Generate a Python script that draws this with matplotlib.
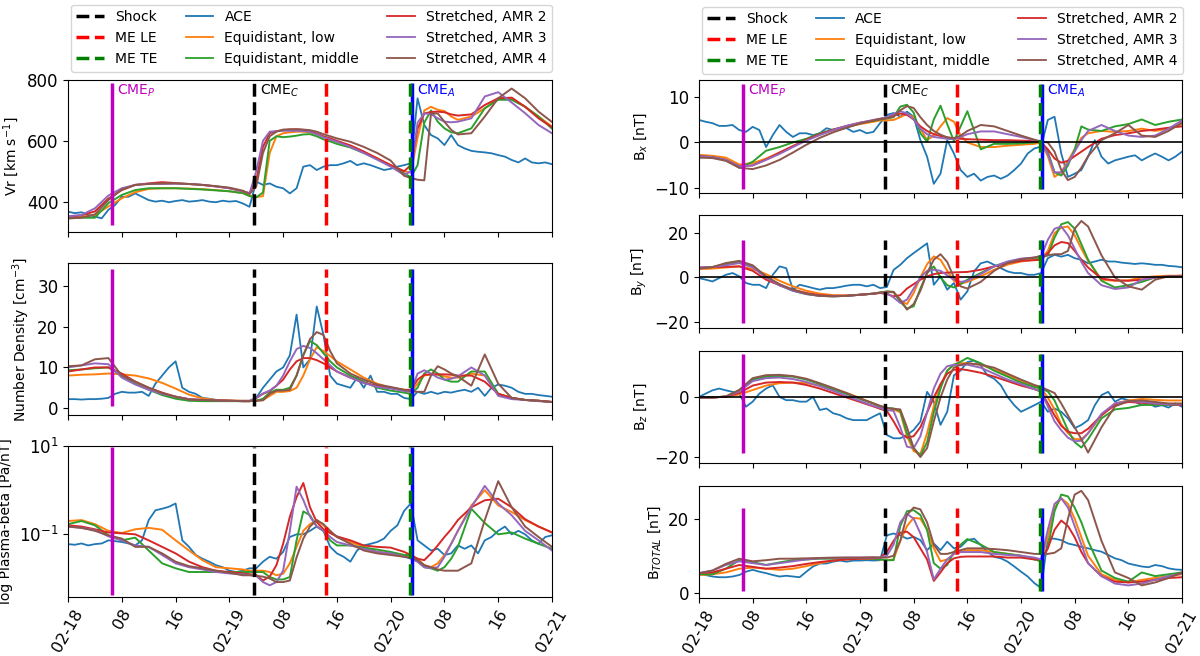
import numpy as np
import matplotlib.pyplot as plt
import matplotlib.dates as mdates
from matplotlib.lines import Line2D
from matplotlib.ticker import FuncFormatter, NullLocator

# time grids (hours after 2014-02-18 00:00)
t_mod = [0, 2, 4, 6, 8, 10, 12, 14, 16, 18, 20, 22, 24, 26,
         27, 28, 29, 30, 31, 32, 33, 34, 35, 36, 37, 38, 39, 40,
         42, 44, 46, 48, 50,
         51, 52, 53, 54, 55, 56, 57, 58,
         60, 62, 64, 66, 68, 70, 72]
t_ace = list(range(73))

# event times (hours)
t_cme_p = 6.5
t_shock = 27.7
t_me_le = 38.4
t_me_te = 50.9
t_cme_a = 51.1

# ---------------- Vr ----------------
vr_ace = [367, 362, 365, 356, 351, 345, 373, 389, 416, 416, 427, 416, 405, 400, 403, 398, 402, 405, 400, 402, 405, 400, 398, 403, 400, 402, 394, 383,
          466, 455, 460, 449, 444, 427, 444, 515, 520, 504, 515, 520, 520, 526, 534, 520, 526, 520, 512, 504, 508, 515, 520, 526,
          740, 652, 619, 608, 586, 619, 586, 575, 567, 564, 562, 559, 553, 548, 537, 529, 542, 529, 526, 529, 523]
vr_eq_low = [348, 350, 356, 384, 411, 431, 442, 444, 444, 443, 441, 438, 434, 428,
             420, 415, 418, 560, 615, 625, 628, 630, 630, 628, 622, 612, 604, 597,
             582, 563, 543, 520, 500,
             495, 610, 700, 712, 702, 698, 680, 669,
             680, 707, 740, 740, 712, 680, 647]
vr_eq_mid = [345, 347, 347, 395, 422, 438, 444, 444, 444, 442, 440, 437, 434, 428,
             418, 414, 430, 600, 615, 612, 614, 617, 621, 622, 615, 605, 598, 590,
             578, 560, 540, 518, 493,
             480, 520, 660, 700, 663, 641, 628, 625,
             641, 707, 735, 735, 712, 680, 640]
vr_amr2 = [350, 355, 368, 410, 438, 455, 460, 464, 461, 458, 455, 450, 444, 434,
           428, 470, 580, 625, 632, 635, 637, 638, 636, 632, 624, 615, 608, 600,
           585, 565, 542, 520, 500,
           520, 640, 690, 695, 696, 694, 687, 683,
           687, 718, 740, 742, 712, 674, 645]
vr_amr3 = [352, 356, 378, 420, 444, 455, 459, 458, 459, 458, 455, 450, 444, 434,
           427, 500, 600, 630, 632, 633, 633, 633, 632, 630, 622, 612, 604, 597,
           580, 560, 538, 515, 488,
           500, 660, 690, 688, 674, 663, 661, 663,
           674, 746, 760, 726, 691, 652, 625]
vr_amr4 = [345, 347, 358, 405, 440, 455, 458, 460, 460, 458, 455, 451, 446, 436,
           425, 450, 560, 615, 630, 637, 638, 638, 637, 635, 630, 622, 615, 608,
           597, 580, 560, 535, 485,
           478, 472, 470, 690, 690, 663, 636, 621,
           625, 680, 740, 772, 740, 696, 662]

# ---------------- number density ----------------
n_ace = [2.2, 2.2, 2.1, 2.2, 2.2, 2.3, 2.5, 3.5, 4.0, 3.8, 3.8, 4.0, 3.0, 6.0, 8.0, 10.0, 11.5, 5.0, 4.0, 3.5, 2.5, 2.3, 2.0, 1.8, 1.8, 1.8, 1.8, 1.8,
         2.5, 5.0, 7.0, 9.0, 10.0, 13.0, 23.0, 10.0, 12.0, 25.0, 18.0, 8.0, 6.0, 5.5, 5.0, 7.5, 5.0, 8.0, 4.0, 4.0, 3.5, 3.5, 2.5, 2.2,
         4.0, 3.5, 4.0, 3.5, 4.0, 3.8, 4.2, 4.5, 4.0, 5.0, 3.0, 5.0, 5.8, 5.5, 5.0, 4.0, 3.5, 3.5, 3.2, 3.0, 2.8]
n_eq_low = [8.0, 8.2, 8.3, 8.5, 8.3, 8.0, 7.3, 6.2, 4.8, 3.3, 2.4, 2.0, 1.9, 1.8,
            1.8, 1.8, 2.0, 3.0, 4.0, 4.0, 4.2, 5.0, 8.0, 12.0, 15.0, 14.0, 12.8, 11.5,
            9.5, 7.5, 6.0, 5.0, 4.3,
            4.0, 6.0, 8.0, 8.3, 8.2, 7.8, 7.5, 7.5,
            8.5, 8.0, 3.5, 2.5, 2.0, 1.8, 1.5]
n_eq_mid = [9.3, 9.5, 9.8, 10.0, 8.0, 6.0, 4.5, 3.2, 2.3, 1.8, 1.7, 1.7, 1.7, 1.7,
            1.7, 1.8, 2.3, 3.8, 4.5, 4.5, 5.0, 8.0, 13.0, 16.5, 15.5, 13.5, 11.5, 10.0,
            8.0, 6.5, 5.0, 4.3, 3.8,
            3.5, 5.0, 8.5, 9.5, 8.5, 7.0, 6.5, 6.5,
            9.0, 9.0, 3.5, 2.5, 2.0, 1.8, 1.5]
n_amr2 = [9.0, 9.5, 10.0, 10.0, 8.5, 6.5, 5.0, 3.8, 2.8, 2.2, 2.0, 1.9, 1.8, 1.7,
          1.7, 2.5, 3.5, 4.2, 5.5, 7.0, 9.5, 11.5, 12.3, 12.3, 11.8, 11.0, 10.0, 9.0,
          7.5, 6.2, 5.5, 5.0, 4.5,
          4.5, 7.0, 8.2, 8.3, 8.3, 8.3, 8.2, 8.0,
          8.0, 6.5, 3.5, 2.5, 2.0, 1.8, 1.5]
n_amr3 = [10.0, 10.5, 11.0, 10.8, 7.5, 5.8, 4.5, 3.5, 2.8, 2.2, 2.0, 1.9, 1.8, 1.7,
          1.7, 2.5, 3.6, 4.3, 5.5, 8.0, 11.5, 14.5, 15.3, 14.8, 13.5, 12.0, 10.5, 9.0,
          7.5, 6.2, 5.2, 4.8, 4.2,
          4.0, 8.5, 9.3, 8.5, 7.5, 7.0, 7.2, 7.8,
          10.0, 8.0, 3.0, 2.2, 2.0, 1.7, 1.5]
n_amr4 = [10.3, 10.5, 12.0, 12.3, 8.0, 6.5, 5.0, 3.7, 2.8, 2.1, 2.0, 1.9, 1.8, 1.7,
          1.7, 1.8, 1.9, 3.5, 4.3, 4.3, 4.5, 8.0, 13.0, 17.0, 18.7, 18.0, 14.0, 11.0,
          8.5, 7.0, 5.8, 5.2, 4.5,
          4.2, 4.0, 4.0, 8.0, 10.3, 9.5, 8.5, 7.8,
          5.5, 13.2, 6.0, 2.5, 2.0, 1.8, 1.5]

# ---------------- plasma beta ----------------
beta_ace = [0.06, 0.058, 0.062, 0.056, 0.06, 0.062, 0.073, 0.07, 0.067, 0.062, 0.056, 0.073, 0.21, 0.35, 0.38, 0.42, 0.5, 0.073, 0.052, 0.034, 0.028, 0.024, 0.02, 0.018, 0.015, 0.014, 0.015, 0.017,
            0.017, 0.024, 0.031, 0.028, 0.04, 0.087, 0.1, 0.1, 0.12, 0.15, 0.12, 0.052, 0.037, 0.031, 0.024, 0.043, 0.056, 0.061, 0.067, 0.08, 0.12, 0.16, 0.34, 0.5,
            0.073, 0.056, 0.043, 0.047, 0.034, 0.037, 0.056, 0.047, 0.056, 0.037, 0.073, 0.087, 0.12, 0.15, 0.1, 0.12, 0.1, 0.073, 0.061, 0.087, 0.095]
beta_eq_low = [0.2, 0.21, 0.17, 0.12, 0.107, 0.13, 0.14, 0.127, 0.073, 0.043, 0.026, 0.018, 0.017, 0.016,
               0.015, 0.015, 0.015, 0.014, 0.0118, 0.0128, 0.022, 0.052, 0.12, 0.17, 0.21, 0.16, 0.11, 0.087,
               0.067, 0.052, 0.04, 0.037, 0.034,
               0.033, 0.028, 0.02, 0.018, 0.022, 0.034, 0.061, 0.12,
               0.45, 1.0, 0.45, 0.32, 0.21, 0.15, 0.11]
beta_eq_mid = [0.17, 0.2, 0.16, 0.095, 0.073, 0.084, 0.043, 0.022, 0.017, 0.014, 0.014, 0.014, 0.014, 0.014,
               0.014, 0.014, 0.014, 0.0108, 0.0095, 0.0095, 0.0108, 0.073, 0.33, 0.27, 0.15, 0.12, 0.073, 0.056,
               0.056, 0.05, 0.045, 0.04, 0.034,
               0.034, 0.024, 0.018, 0.017, 0.015, 0.018, 0.028, 0.052,
               0.38, 0.18, 0.1, 0.11, 0.08, 0.061, 0.047]
beta_amr2 = [0.16, 0.15, 0.13, 0.11, 0.105, 0.1, 0.073, 0.052, 0.037, 0.024, 0.018, 0.015, 0.014, 0.013,
             0.0125, 0.012, 0.009, 0.011, 0.02, 0.061, 0.25, 0.7, 1.45, 0.41, 0.19, 0.13, 0.107, 0.09,
             0.073, 0.056, 0.052, 0.05, 0.04,
             0.034, 0.028, 0.026, 0.037, 0.056, 0.087, 0.13, 0.21,
             0.41, 0.59, 0.64, 0.41, 0.22, 0.15, 0.11]
beta_amr3 = [0.15, 0.14, 0.125, 0.09, 0.073, 0.056, 0.052, 0.034, 0.022, 0.018, 0.016, 0.014, 0.013, 0.0124,
             0.012, 0.0115, 0.0083, 0.007, 0.0083, 0.015, 0.12, 1.2, 0.6, 0.25, 0.15, 0.12, 0.087, 0.067,
             0.056, 0.047, 0.04, 0.037, 0.031,
             0.028, 0.024, 0.018, 0.017, 0.018, 0.031, 0.061, 0.12,
             0.41, 1.25, 0.5, 0.27, 0.12, 0.073, 0.043]
beta_amr4 = [0.15, 0.14, 0.12, 0.095, 0.08, 0.052, 0.052, 0.037, 0.024, 0.019, 0.017, 0.015, 0.0135, 0.0118,
             0.0118, 0.0115, 0.011, 0.01, 0.0083, 0.0083, 0.009, 0.03, 0.08, 0.15, 0.21, 0.17, 0.12, 0.087,
             0.061, 0.043, 0.037, 0.034, 0.031,
             0.03, 0.026, 0.02, 0.018, 0.016, 0.015, 0.015, 0.015,
             0.022, 0.21, 1.6, 0.41, 0.15, 0.087, 0.052]

# ---------------- Bx ----------------
bx_ace = [4.9, 4.5, 4.2, 3.6, 3.6, 3.8, 2.7, 2.3, 3.4, 2.7, -1.0, 1.6, 3.8, 2.3, 1.2, 2.0, 2.0, 1.6, 2.0, 3.1, 2.7, 3.1, 3.1, 2.3, 2.7, 2.0, 2.3, 4.2,
          6.0, 6.4, 5.6, 6.7, 5.6, 0.5, -3.1, -9.0, -6.8, 0.5, -2.4, -6.0, -7.5, -6.8, -8.3, -7.5, -7.2, -7.9, -7.2, -6.0, -4.6, -2.4, -1.3, -0.9,
          4.9, 5.6, -2.4, -7.5, -6.8, -6.0, -3.1, 0.5, -3.1, -4.6, -3.9, -3.5, -3.1, -2.8, -3.9, -3.1, -2.4, -3.1, -3.9, -3.1, -2.0]
bx_eq_low = [-2.7, -2.9, -3.3, -4.8, -4.5, -3.5, -2.2, -0.8, 0.6, 1.8, 2.6, 3.4, 4.0, 4.5,
             4.8, 4.8, 4.9, 5.5, 6.2, 5.5, 3.0, 0.5, 1.5, 3.5, 5.3, 4.5, 1.5, 0.0,
             -1.0, -1.0, -0.7, -0.5, -0.3,
             0.0, -3.0, -7.5, -6.5, -4.0, -1.5, 1.0, 2.0,
             2.5, 2.3, 2.5, 3.0, 2.5, 3.0, 4.0]
bx_eq_mid = [-3.0, -3.2, -3.8, -5.5, -4.2, -1.8, -1.0, 0.0, 0.8, 2.0, 2.8, 3.5, 4.2, 4.7,
             5.0, 5.2, 5.5, 7.8, 8.2, 6.5, 2.0, 0.2, 5.0, 8.0, 4.0, 0.3, 3.5, 6.8,
             -1.5, -0.3, -0.3, -0.2, 0.0,
             0.2, -2.0, -6.5, -7.2, -5.0, -1.5, 3.5, 2.8,
             2.5, 3.5, 4.0, 5.0, 3.8, 4.5, 5.0]
bx_amr2 = [-3.0, -3.2, -3.8, -5.2, -5.0, -3.7, -2.2, -0.8, 0.6, 1.8, 2.8, 3.6, 4.3, 4.8,
           5.1, 5.3, 5.8, 6.3, 6.0, 5.0, 3.5, 2.5, 1.8, 1.4, 1.1, 0.9, 0.8, 0.7,
           0.6, 0.5, 0.5, 0.4, 0.3,
           0.0, -1.5, -3.5, -4.4, -4.0, -3.0, -2.0, -1.0,
           0.8, 1.6, 2.0, 2.5, 2.8, 3.2, 3.5]
bx_amr3 = [-3.0, -3.2, -3.8, -5.2, -5.0, -3.8, -2.5, -1.0, 0.4, 1.6, 2.7, 3.6, 4.3, 4.9,
           5.2, 5.5, 6.2, 6.8, 6.3, 5.0, 3.0, 1.8, 1.2, 1.0, 0.8, 0.7, 1.2, 1.8,
           2.4, 2.4, 1.8, 1.2, 0.5,
           0.0, -2.5, -6.5, -6.5, -4.5, -2.0, 0.5, 2.5,
           3.8, 2.5, 1.5, 1.2, 1.5, 3.0, 4.8]
bx_amr4 = [-3.3, -3.4, -4.0, -5.5, -5.8, -5.0, -3.8, -2.2, -0.5, 1.0, 2.2, 3.2, 4.1, 4.8,
           5.1, 5.3, 5.6, 7.0, 7.9, 7.5, 5.5, 3.8, 2.5, 1.7, 1.1, 0.9, 1.5, 2.5,
           3.8, 3.5, 2.5, 1.5, 0.6,
           0.2, 0.0, -2.0, -6.0, -8.2, -7.5, -5.5, -3.0,
           0.5, 2.0, 3.8, 1.5, 1.2, 2.5, 4.3]

# ---------------- By ----------------
by_ace = [-0.3, -1.0, -1.8, -0.3, 1.2, 2.0, 0.5, -2.5, -3.3, -3.3, -4.8, 1.2, 5.0, 4.2, -5.5, -3.3, -4.0, -4.8, -5.5, -4.8, -4.8, -4.3, -3.7, -3.3, -3.3, -4.0, -3.3, -4.8,
          -4.3, 3.4, 5.7, 8.7, 11.0, 13.2, 15.4, -3.3, 0.5, -5.5, -2.5, -10.0, -6.3, 2.7, 6.4, 7.2, 5.7, 4.2, 2.7, 2.0, 2.0, 1.2, 1.2, 2.0,
          8.7, 10.2, 9.4, 10.2, 8.7, 8.0, 6.4, 7.2, 8.0, 7.2, 7.2, 6.7, 6.4, 6.1, 6.4, 6.1, 5.7, 5.7, 5.2, 5.0, 4.6]
by_eq_low = [3.8, 4.0, 4.5, 5.0, 3.8, 1.5, -1.5, -4.0, -6.0, -7.3, -8.0, -8.1, -7.8, -7.3,
             -7.0, -6.3, -6.8, -10.5, -12.0, -7.0, 0.0, 6.0, 9.5, 8.0, 3.0, -1.5, -2.8, -2.0,
             0.5, 3.5, 5.8, 7.2, 8.0,
             8.5, 12.0, 20.0, 22.5, 23.0, 19.0, 13.0, 7.5,
             -1.0, -1.5, -1.3, 0.0, 0.5, 0.8, 0.8]
by_eq_mid = [4.2, 4.7, 6.0, 6.8, 5.0, 0.0, -3.5, -6.0, -7.5, -8.3, -8.5, -8.3, -7.8, -7.3,
             -6.8, -6.3, -6.5, -11.0, -14.0, -13.0, -5.0, 2.0, 5.0, 0.0, -3.5, -4.5, -3.0, -1.0,
             2.0, 5.0, 7.0, 8.3, 8.8,
             9.0, 10.0, 18.0, 24.0, 25.0, 22.0, 15.0, 8.0,
             -1.5, -4.5, -3.5, -2.0, 0.0, 0.5, 0.5]
by_amr2 = [4.5, 4.7, 4.8, 5.0, 3.0, -1.0, -3.5, -5.5, -7.0, -8.0, -8.3, -8.2, -7.8, -7.3,
           -7.0, -7.5, -8.5, -8.0, -5.0, -3.0, -1.0, 0.5, 1.5, 2.0, 2.2, 2.3, 2.4, 2.5,
           3.5, 5.0, 6.5, 7.5, 7.8,
           8.0, 11.0, 14.5, 16.0, 15.5, 12.0, 8.0, 4.5,
           -0.5, -1.3, -1.5, -1.0, 0.0, 0.5, 0.8]
by_amr3 = [4.5, 4.7, 5.5, 6.5, 4.5, 0.0, -3.5, -6.0, -7.5, -8.3, -8.5, -8.3, -7.8, -7.3,
           -6.8, -7.0, -9.0, -11.5, -10.0, -5.0, 0.0, 3.0, 3.5, 3.0, 1.0, -1.0, -2.0, -1.5,
           1.5, 5.0, 7.2, 8.5, 9.0,
           9.5, 17.0, 22.0, 23.0, 19.0, 13.0, 7.0, 2.0,
           -3.5, -5.2, -4.5, -1.0, 0.0, 0.5, 0.5]
by_amr4 = [4.0, 4.7, 6.5, 7.5, 5.5, 0.5, -3.0, -5.5, -7.3, -8.3, -8.5, -8.3, -7.8, -7.3,
           -6.8, -6.5, -6.5, -10.0, -14.5, -12.0, -6.0, 2.0, 8.0, 10.5, 7.0, 0.0, -4.0, -5.0,
           -2.0, 3.0, 6.5, 8.2, 9.0,
           9.8, 10.0, 10.5, 10.5, 12.0, 22.0, 25.5, 23.0,
           10.0, 0.0, -4.0, -5.5, -1.0, 0.5, 0.5]

# ---------------- Bz ----------------
bz_ace = [0.2, 1.3, 2.4, 3.0, 2.4, 1.9, 1.3, -3.1, -1.4, 1.3, 3.0, 4.1, 0.2, -0.9, -0.9, -1.4, -1.4, 0.2, -4.2, -3.7, -5.3, -5.9, -7.0, -7.6, -7.6, -7.6, -6.4, -5.3,
          -12.6, -13.7, -13.7, -12.6, -10.9, -8.1, 1.9, -1.4, -9.2, -4.8, 7.4, 9.1, 11.9, 12.4, 10.8, 7.4, 6.3, 4.1, 0.2, -2.6, -4.8, -3.7, -2.6, -1.4,
          -4.8, -3.7, -4.8, -7.0, -10.3, -9.2, -7.6, -2.6, 0.8, 1.9, -1.4, -0.3, -0.9, -1.4, -2.6, -2.0, -3.1, -2.6, -3.4, -2.0, -3.1]
bz_eq_low = [0.0, 0.0, 0.3, 1.0, 2.5, 4.0, 4.8, 5.0, 4.8, 4.0, 2.8, 1.5, -0.2, -2.0,
             -3.0, -3.5, -4.0, -5.0, -13.0, -18.0, -19.0, -12.0, -3.0, 4.0, 9.0, 11.0, 11.5, 11.5,
             11.0, 9.3, 7.5, 5.5, 3.8,
             3.0, 0.0, -4.0, -9.0, -12.0, -14.0, -14.0, -12.0,
             -6.0, -2.0, -1.0, -0.5, -0.8, -1.0, -1.0]
bz_eq_mid = [0.0, 0.0, 0.3, 2.5, 6.0, 7.0, 7.2, 7.0, 6.0, 4.5, 2.8, 1.2, -0.5, -2.0,
             -3.0, -3.5, -3.7, -4.5, -12.0, -17.0, -19.5, -15.0, -5.0, 3.0, 9.0, 11.0, 12.0, 13.3,
             11.5, 9.0, 7.0, 5.0, 3.5,
             3.0, 2.0, -1.0, -6.0, -11.0, -15.0, -16.8, -14.0,
             -7.0, -4.0, -3.5, -2.5, -2.5, -2.5, -2.5]
bz_amr2 = [0.0, 0.0, 0.3, 1.5, 4.0, 5.0, 5.2, 5.0, 4.2, 3.0, 1.5, 0.0, -1.5, -3.0,
           -3.8, -4.5, -8.0, -12.0, -13.5, -13.0, -10.0, -5.0, 0.0, 4.5, 8.0, 9.3, 9.5, 9.2,
           8.3, 7.0, 5.5, 4.0, 2.8,
           2.0, -2.0, -6.0, -9.5, -11.5, -12.0, -12.0, -10.5,
           -6.0, -2.5, -1.5, -1.8, -2.0, -2.3, -2.5]
bz_amr3 = [0.0, 0.0, 0.3, 2.0, 5.5, 6.5, 6.7, 6.2, 5.2, 3.8, 2.2, 0.5, -1.2, -2.8,
           -3.5, -4.2, -4.5, -10.0, -16.5, -17.0, -13.0, -5.0, 3.0, 8.0, 10.5, 11.0, 10.8, 11.0,
           10.0, 8.0, 6.0, 4.5, 2.8,
           2.0, -3.0, -8.0, -11.0, -13.5, -14.7, -14.5, -12.0,
           -5.5, -2.0, -1.2, -1.5, -2.0, -2.3, -2.3]
bz_amr4 = [0.0, 0.0, 0.3, 2.5, 6.5, 7.5, 7.6, 7.2, 6.3, 4.8, 3.2, 1.5, -0.3, -2.0,
           -2.8, -3.5, -3.8, -4.0, -10.0, -17.0, -20.0, -17.0, -8.0, 0.0, 6.0, 10.0, 11.0, 11.5,
           11.0, 10.0, 8.0, 6.0, 4.2,
           3.5, 2.5, 1.5, -2.0, -6.0, -10.0, -14.0, -18.5,
           -10.0, -3.0, -1.2, -1.0, -1.5, -2.0, -2.0]

# ---------------- |B| ----------------
bt_ace = [5.3, 4.8, 4.4, 4.2, 4.2, 4.4, 4.8, 5.7, 6.2, 5.7, 5.3, 4.8, 4.4, 4.6, 4.4, 4.2, 5.7, 7.1, 7.9, 7.9, 8.4, 8.7, 8.4, 8.7, 8.7, 8.8, 8.7, 8.8,
          15.5, 16.0, 15.5, 14.6, 15.1, 14.2, 11.5, 13.3, 11.5, 13.8, 12.0, 12.4, 14.2, 14.6, 12.9, 11.1, 9.7, 9.3, 8.4, 7.1, 5.7, 4.4, 2.6, 1.3,
          14.6, 14.6, 14.2, 13.3, 12.9, 12.4, 12.0, 11.5, 11.1, 10.2, 9.3, 8.8, 7.9, 7.5, 7.1, 6.9, 7.5, 7.2, 6.6, 6.3, 6.2]
bt_eq_low = [4.8, 5.0, 5.5, 6.5, 6.8, 6.5, 6.2, 6.5, 7.2, 8.0, 8.7, 9.0, 9.2, 9.2,
             9.0, 8.8, 9.0, 14.0, 18.0, 20.2, 20.0, 17.0, 12.0, 8.5, 9.0, 10.5, 11.0, 11.5,
             11.5, 11.0, 10.5, 10.0, 9.3,
             9.0, 15.0, 23.0, 25.5, 24.0, 20.0, 15.0, 10.0,
             5.0, 3.5, 2.8, 3.5, 4.0, 4.5, 5.0]
bt_eq_mid = [5.0, 5.0, 6.5, 8.8, 8.3, 7.5, 8.2, 8.8, 9.0, 9.2, 9.2, 9.3, 9.3, 9.2,
             9.0, 8.8, 8.8, 18.0, 22.0, 22.3, 21.0, 17.0, 8.0, 6.5, 7.5, 11.0, 13.0, 14.5,
             13.0, 11.0, 10.5, 10.0, 9.0,
             8.5, 12.0, 22.0, 26.5, 26.0, 23.0, 19.0, 14.0,
             6.0, 4.0, 3.0, 5.5, 4.5, 5.0, 5.5]
bt_amr2 = [5.3, 5.5, 6.5, 7.5, 7.0, 6.5, 6.8, 7.2, 7.8, 8.3, 8.7, 9.0, 9.2, 9.3,
           9.5, 11.0, 14.0, 16.2, 16.5, 15.0, 12.0, 9.0, 3.2, 5.5, 8.0, 9.3, 9.7, 9.8,
           9.8, 9.8, 9.5, 9.5, 9.0,
           9.0, 12.0, 17.0, 19.5, 18.0, 15.0, 11.0, 8.0,
           4.5, 3.0, 2.8, 3.0, 3.5, 4.0, 4.2]
bt_amr3 = [5.3, 6.0, 7.5, 8.5, 8.0, 7.5, 8.0, 8.5, 9.0, 9.3, 9.4, 9.5, 9.5, 9.5,
           9.5, 10.0, 13.0, 19.0, 21.3, 20.0, 16.0, 11.0, 3.6, 6.5, 9.0, 10.5, 11.0, 11.0,
           11.0, 10.5, 10.2, 10.0, 9.5,
           9.0, 17.0, 24.0, 25.5, 23.0, 18.0, 13.0, 8.0,
           4.5, 2.5, 2.0, 2.5, 3.5, 4.5, 5.2]
bt_amr4 = [5.3, 6.0, 7.8, 9.2, 8.5, 8.8, 9.2, 9.2, 9.3, 9.4, 9.5, 9.5, 9.5, 9.6,
           9.5, 9.5, 10.0, 14.0, 21.0, 23.0, 22.5, 19.0, 13.0, 10.5, 10.5, 11.0, 11.5, 12.0,
           12.0, 11.8, 11.5, 11.0, 10.5,
           10.5, 10.5, 10.8, 12.0, 20.0, 26.5, 27.5, 25.0,
           14.0, 5.5, 4.0, 2.0, 2.8, 4.0, 5.5]

model_colors = ['C1', 'C2', 'C3', 'C4', 'C5']
model_names = ['Equidistant, low', 'Equidistant, middle',
               'Stretched, AMR 2', 'Stretched, AMR 3', 'Stretched, AMR 4']

t0 = np.datetime64('2014-02-18T00:00')


def to_time(hours):
    return t0 + (np.array(hours) * 60).astype(int).astype('timedelta64[m]')


tm = to_time(t_mod)
ta = to_time(t_ace)
ev = {k: to_time([v])[0] for k, v in dict(p=t_cme_p, s=t_shock, le=t_me_le,
                                          te=t_me_te, a=t_cme_a).items()}

fig = plt.figure(figsize=(12, 6.56), dpi=100)

# panels: (ace, models, ylabel, ylim, yticks, vline range, rect, zero line)
left = [
    (vr_ace, [vr_eq_low, vr_eq_mid, vr_amr2, vr_amr3, vr_amr4], 'Vr [km s$^{-1}$]',
     (300, 800), [400, 600, 800], (323, 791), [0.0567, 0.6463, 0.4033, 0.2317], False),
    (n_ace, [n_eq_low, n_eq_mid, n_amr2, n_amr3, n_amr4], 'Number Density [cm$^{-3}$]',
     (-1.7, 35.7), [0, 10, 20, 30], (0.4, 34.2), [0.0567, 0.3674, 0.4033, 0.2317], False),
    (beta_ace, [beta_eq_low, beta_eq_mid, beta_amr2, beta_amr3, beta_amr4], 'log Plasma-beta [Pa/nT]',
     (0.0038, 10), [0.1, 10], (0.0042, 9.5), [0.0567, 0.0899, 0.4033, 0.2302], False),
]
right = [
    (bx_ace, [bx_eq_low, bx_eq_mid, bx_amr2, bx_amr3, bx_amr4], 'B$_x$ [nT]',
     (-11, 13.6), [-10, 0, 10], (-10.1, 12.7), [0.5825, 0.7058, 0.4025, 0.1723], True),
    (by_ace, [by_eq_low, by_eq_mid, by_amr2, by_amr3, by_amr4], 'B$_y$ [nT]',
     (-22.8, 28.2), [-20, 0, 20], (-20.5, 17), [0.5825, 0.5, 0.4025, 0.1723], True),
    (bz_ace, [bz_eq_low, bz_eq_mid, bz_amr2, bz_amr3, bz_amr4], 'B$_z$ [nT]',
     (-22, 15.6), [-20, 0], (-18.7, 14.7), [0.5825, 0.2942, 0.4025, 0.1707], True),
    (bt_ace, [bt_eq_low, bt_eq_mid, bt_amr2, bt_amr3, bt_amr4], 'B$_{TOTAL}$ [nT]',
     (-1.4, 28.8), [0, 20], (0.6, 22.8), [0.5825, 0.0884, 0.4025, 0.1707], False),
]


def fmt_time(x, pos):
    d = mdates.num2date(x)
    return d.strftime('%m-%d') if d.hour == 0 else d.strftime('%H')


for col in (left, right):
    axes = []
    for i, (ace, models, ylab, ylim, yt, vr, rect, zero) in enumerate(col):
        ax = fig.add_axes(rect, sharex=axes[0] if axes else None)
        axes.append(ax)
        ax.plot(ta, ace, color='C0', lw=1.3)
        for vals, c in zip(models, model_colors):
            ax.plot(tm, vals, color=c, lw=1.4)
        if zero:
            ax.axhline(0, color='k', lw=1.2)
        ax.vlines(ev['p'], vr[0], vr[1], color='m', lw=2.5, zorder=5)
        ax.vlines(ev['s'], vr[0], vr[1], color='k', lw=2.5, linestyles='--', zorder=5)
        ax.vlines(ev['le'], vr[0], vr[1], color='r', lw=2.5, linestyles='--', zorder=5)
        ax.vlines(ev['a'], vr[0], vr[1], color='b', lw=2.5, zorder=5)
        ax.vlines(ev['te'], vr[0], vr[1], color='g', lw=2.5, linestyles='--', zorder=6)
        if ylab.startswith('log'):
            ax.set_yscale('log')
            ax.yaxis.set_minor_locator(NullLocator())
        ax.set_ylim(*ylim)
        ax.set_yticks(yt)
        ax.set_ylabel(ylab, fontsize=10)
        ax.tick_params(axis='y', labelsize=12)
        ax.tick_params(axis='x', labelsize=11.5)
        if i < len(col) - 1:
            ax.tick_params(labelbottom=False)
    top = axes[0]
    ytxt = 765 if col is left else 11.3
    for key, lab, c in (('p', 'CME$_P$', 'm'), ('s', 'CME$_C$', 'k'), ('a', 'CME$_A$', 'b')):
        top.text(ev[key] + np.timedelta64(50, 'm'), ytxt, lab, color=c,
                 fontsize=10, va='center')
    bot = axes[-1]
    bot.set_xlim(to_time([0])[0], to_time([72])[0])
    bot.xaxis.set_major_locator(mdates.HourLocator(byhour=[0, 8, 16]))
    bot.xaxis.set_major_formatter(FuncFormatter(fmt_time))
    for lb in bot.get_xticklabels():
        lb.set_rotation(60)
        lb.set_ha('center')

    handles = [Line2D([], [], color='k', ls='--', lw=2.5),
               Line2D([], [], color='r', ls='--', lw=2.5),
               Line2D([], [], color='g', ls='--', lw=2.5),
               Line2D([], [], color='C0', lw=1.3)]
    handles += [Line2D([], [], color=c, lw=1.3) for c in model_colors]
    labels = ['Shock', 'ME LE', 'ME TE', 'ACE'] + model_names
    top.legend(handles, labels, ncol=3, fontsize=10, loc='lower left',
               bbox_to_anchor=(0.006, 1.055), borderaxespad=0)

fig.savefig('out.png', dpi=100)
